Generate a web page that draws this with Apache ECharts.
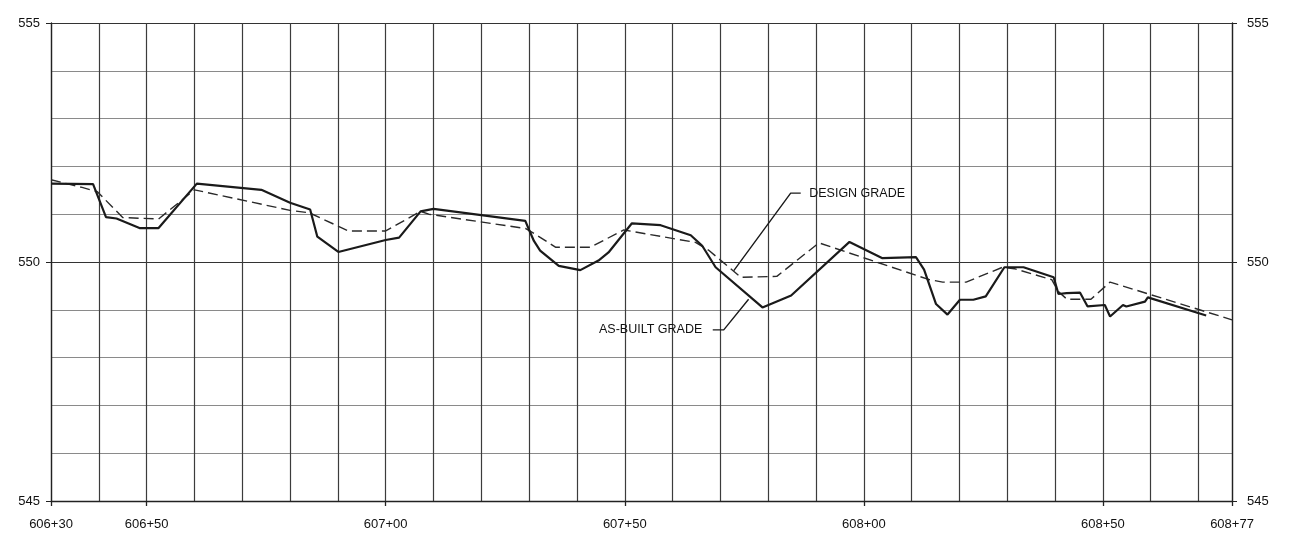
<!DOCTYPE html>
<html>
<head>
<meta charset="utf-8">
<script src="https://cdn.jsdelivr.net/npm/echarts@6/dist/echarts.min.js"></script>
<style>
html,body{margin:0;padding:0;background:#fff;}
#c{width:1290px;height:550px;}
</style>
</head>
<body>
<div id="c"></div>
<script>
// Stations in feet (60630 = 606+30), elevations in feet
const designGrade = [
  [60630, 551.72], [60636.5, 551.56], [60639.7, 551.47], [60645, 550.93], [60652.5, 550.9],
  [60660, 551.51], [60680, 551.08], [60684, 551.03], [60692.2, 550.65], [60700, 550.65],
  [60707.3, 551.06], [60709, 551.0], [60729.3, 550.7], [60731, 550.6], [60735.5, 550.31],
  [60742.8, 550.31], [60749.8, 550.67], [60764.8, 550.41], [60767.5, 550.25], [60774.3, 549.68],
  [60781.8, 549.70], [60790.6, 550.40], [60813.7, 549.63], [60816.5, 549.58], [60821.4, 549.58],
  [60829, 549.89], [60831.5, 549.86], [60839.3, 549.63], [60840.7, 549.38], [60842.5, 549.22],
  [60847.5, 549.22], [60851.5, 549.58], [60877, 548.79]
];
const asBuiltGrade = [
  [60630, 551.64], [60638.8, 551.63], [60641.5, 550.94], [60643.7, 550.91], [60648.5, 550.71],
  [60652.5, 550.71], [60660.5, 551.64], [60674, 551.51], [60680, 551.24], [60684.2, 551.10],
  [60685.7, 550.53], [60690.1, 550.21], [60700, 550.46], [60702.8, 550.51], [60707.3, 551.06],
  [60710, 551.11], [60729.2, 550.86], [60730, 550.67], [60731, 550.44], [60732.3, 550.24],
  [60736.2, 549.92], [60740.7, 549.83], [60744.5, 550.03], [60746.6, 550.20], [60751.5, 550.81],
  [60757.5, 550.77], [60763.8, 550.56], [60766.2, 550.34], [60769, 549.89], [60778.8, 549.05],
  [60784.8, 549.30], [60797, 550.42], [60803.9, 550.08], [60810.9, 550.10], [60812.6, 549.84],
  [60815.1, 549.12], [60817.5, 548.90], [60820.1, 549.21], [60822.9, 549.21], [60825.5, 549.28],
  [60829.4, 549.89], [60833.4, 549.89], [60839.7, 549.68], [60840.7, 549.33], [60842.4, 549.35],
  [60845.2, 549.36], [60846.8, 549.07], [60850.4, 549.10], [60851.5, 548.86], [60854.2, 549.10],
  [60854.9, 549.07], [60858.8, 549.17], [60859.4, 549.26], [60871.6, 548.88]
];
const xTickValues = [60630, 60650, 60700, 60750, 60800, 60850, 60877];
const xTickLabels = ['606+30', '606+50', '607+00', '607+50', '608+00', '608+50', '608+77'];
const yTickValues = [545, 550, 555];
const yTickLabels = ['545', '550', '555'];
const designLabel = 'DESIGN GRADE';
const asBuiltLabel = 'AS-BUILT GRADE';
const designLeader = [[60772.8, 549.82], [60784.7, 551.44], [60786.8, 551.44]];
const asBuiltLeader = [[60768.4, 548.58], [60770.7, 548.58], [60775.9, 549.22]];

const chart = echarts.init(document.getElementById('c'), null, {renderer: 'canvas'});
const txt = '#111';
const fontAxis = 'Liberation Sans, Arial, sans-serif';

function xFmt(v) {
  const i = xTickValues.indexOf(Math.round(v));
  return i >= 0 ? xTickLabels[i] : '';
}
function yFmt(v) {
  const i = yTickValues.indexOf(Math.round(v));
  return i >= 0 ? yTickLabels[i] : '';
}
const X_MIN = 60630, X_MAX = 60877, Y_MIN = 545, Y_MAX = 555;

chart.setOption({
  animation: false,
  backgroundColor: '#fff',
  grid: {left: 51, right: 58, top: 23, bottom: 49, containLabel: false},
  xAxis: [{
    type: 'value', min: X_MIN, max: X_MAX, interval: 10, position: 'bottom',
    axisLine: {show: false}, axisTick: {show: false}, axisLabel: {show: false},
    splitLine: {show: true, lineStyle: {color: '#3c3c3c', width: 1.2}}
  }, {
    type: 'value', min: X_MIN, max: X_MAX, position: 'bottom',
    axisLine: {show: true, onZero: false, lineStyle: {color: '#222', width: 1.3}},
    axisTick: {show: true, length: 5, customValues: xTickValues, lineStyle: {color: '#222', width: 1.3}},
    axisLabel: {show: true, customValues: xTickValues, formatter: xFmt, margin: 17,
      color: txt, fontSize: 13, fontFamily: fontAxis},
    splitLine: {show: false}
  }],
  yAxis: [{
    type: 'value', min: Y_MIN, max: Y_MAX, interval: 1, position: 'left',
    axisLine: {show: false}, axisTick: {show: false}, axisLabel: {show: false},
    splitLine: {show: true, lineStyle: {color: ['#333', '#8a8a8a', '#8a8a8a', '#8a8a8a', '#8a8a8a'], width: 1.1}}
  }, {
    type: 'value', min: Y_MIN, max: Y_MAX, position: 'left',
    axisLine: {show: true, onZero: false, lineStyle: {color: '#222', width: 1.3}},
    axisTick: {show: true, length: 5, customValues: yTickValues, lineStyle: {color: '#222'}},
    axisLabel: {show: true, customValues: yTickValues, formatter: yFmt, margin: 11,
      color: txt, fontSize: 13, fontFamily: fontAxis},
    splitLine: {show: false}
  }, {
    type: 'value', min: Y_MIN, max: Y_MAX, position: 'right',
    axisLine: {show: true, onZero: false, lineStyle: {color: '#222', width: 1.3}},
    axisTick: {show: true, length: 5, customValues: yTickValues, lineStyle: {color: '#222'}},
    axisLabel: {show: true, customValues: yTickValues, formatter: yFmt, margin: 15,
      color: txt, fontSize: 13, fontFamily: fontAxis},
    splitLine: {show: false}
  }],
  series: [
    {
      name: 'Design Grade', type: 'line', data: designGrade, symbol: 'none',
      lineStyle: {color: '#2a2a2a', width: 1.4, type: [10, 5]}, z: 3
    },
    {
      name: 'As-Built Grade', type: 'line', data: asBuiltGrade, symbol: 'none',
      lineStyle: {color: '#1a1a1a', width: 2.2}, z: 4
    },
    {
      name: 'design-leader', type: 'line', symbol: 'none', silent: true,
      lineStyle: {color: '#1a1a1a', width: 1.4}, data: designLeader, z: 5
    },
    {
      name: 'asbuilt-leader', type: 'line', symbol: 'none', silent: true,
      lineStyle: {color: '#1a1a1a', width: 1.4}, data: asBuiltLeader, z: 5
    },
    {
      name: 'design-text', type: 'scatter', silent: true, symbolSize: 1,
      itemStyle: {color: 'rgba(0,0,0,0)'},
      data: [designLeader[designLeader.length - 1]],
      label: {show: true, position: 'right', distance: 8, formatter: designLabel,
        color: txt, fontSize: 12.5, fontFamily: fontAxis, opacity: 1}, z: 6
    },
    {
      name: 'asbuilt-text', type: 'scatter', silent: true, symbolSize: 1,
      itemStyle: {color: 'rgba(0,0,0,0)'},
      data: [asBuiltLeader[0]],
      label: {show: true, position: 'left', distance: 10, formatter: asBuiltLabel,
        color: txt, fontSize: 12.5, fontFamily: fontAxis, opacity: 1}, z: 6
    }
  ]
});
</script>
</body>
</html>
